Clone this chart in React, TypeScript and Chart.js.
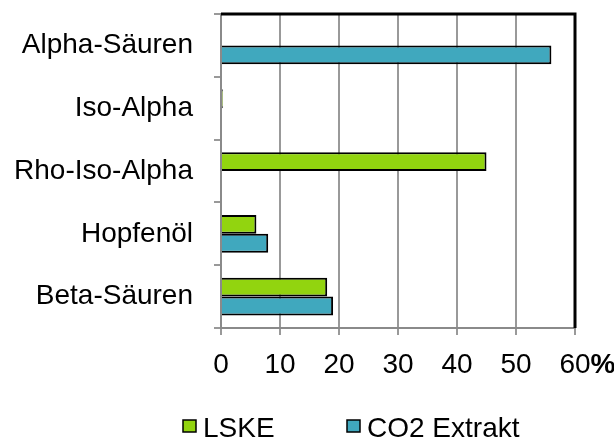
import React, { useEffect, useRef } from "react";
import { Chart, registerables } from "chart.js";

Chart.register(...registerables);

const categories = ["Alpha-Säuren", "Iso-Alpha", "Rho-Iso-Alpha", "Hopfenöl", "Beta-Säuren"];
const seriesNames = ["LSKE", "CO2 Extrakt"];
const lskeValues = [0, 0.3, 45, 6, 18];
const co2Values = [56, 0, 0, 8, 19];
const xMin = 0;
const xMax = 60;
const xStep = 10;
const unitSuffix = "%";

const GREEN = "#92D40F";
const TEAL = "#40A8BE";
const FONT = "'Liberation Sans', Arial, sans-serif";

export default function App() {
  const ref = useRef<HTMLCanvasElement | null>(null);

  useEffect(() => {
    if (!ref.current) return;

    const framePlugin = {
      id: "framePlugin",
      afterDraw(chart: any) {
        const ctx = chart.ctx;
        const { left, right, top, bottom } = chart.chartArea;
        ctx.save();
        ctx.strokeStyle = "#000";
        ctx.lineWidth = 3;
        ctx.beginPath();
        ctx.moveTo(left, top);
        ctx.lineTo(right + 1.5, top);
        ctx.moveTo(right, top);
        ctx.lineTo(right, bottom);
        ctx.stroke();

        const xs = chart.scales.x;
        const items = xs.getLabelItems();
        const last = items[items.length - 1];
        if (last) {
          ctx.font = `28px ${FONT}`;
          const w = ctx.measureText(String(last.label)).width;
          const [tx, ty] = last.options.translation;
          ctx.font = `bold 28px ${FONT}`;
          ctx.fillStyle = "#000";
          ctx.textAlign = "left";
          ctx.textBaseline = last.options.textBaseline;
          ctx.fillText(unitSuffix, tx + w / 2, ty + last.textOffset);
        }

        const colors = [GREEN, TEAL];
        const starts = [183, 347];
        ctx.font = `28px ${FONT}`;
        ctx.textBaseline = "alphabetic";
        ctx.textAlign = "left";
        chart.data.datasets.forEach((ds: any, i: number) => {
          const x = starts[i];
          ctx.fillStyle = colors[i];
          ctx.fillRect(x, 420, 13, 12);
          ctx.strokeStyle = "#000";
          ctx.lineWidth = 1.5;
          ctx.strokeRect(x, 420, 13, 12);
          ctx.fillStyle = "#000";
          ctx.fillText(ds.label, x + 20, 437);
        });
        ctx.restore();
      },
    };

    const chart = new Chart(ref.current, {
      type: "bar",
      data: {
        labels: categories,
        datasets: [
          {
            label: seriesNames[0],
            data: lskeValues,
            backgroundColor: GREEN,
            borderColor: "#000",
            borderWidth: 2,
            barPercentage: 1,
            categoryPercentage: 0.6,
          },
          {
            label: seriesNames[1],
            data: co2Values,
            backgroundColor: TEAL,
            borderColor: "#000",
            borderWidth: 2,
            barPercentage: 1,
            categoryPercentage: 0.6,
          },
        ],
      },
      options: {
        indexAxis: "y",
        responsive: false,
        animation: false,
        devicePixelRatio: 1,
        layout: { padding: { top: 14, right: 39, left: 0, bottom: 0 } },
        plugins: {
          legend: { display: false },
          tooltip: { enabled: false },
        },
        scales: {
          x: {
            min: xMin,
            max: xMax,
            ticks: {
              stepSize: xStep,
              color: "#000",
              font: { family: FONT, size: 28 },
              padding: 13,
              maxRotation: 0,
            },
            grid: {
              color: "#999",
              lineWidth: 2,
              tickLength: 7,
              drawTicks: true,
            },
            border: { display: true, color: "#8a8a8a", width: 2 },
            afterFit(scale: any) {
              scale.height = 109;
              scale.paddingLeft = 0;
              scale.paddingRight = 0;
            },
          },
          y: {
            ticks: {
              color: "#000",
              font: { family: FONT, size: 28 },
              padding: 21,
            },
            grid: {
              offset: true,
              drawOnChartArea: false,
              drawTicks: true,
              tickLength: 7,
              color: "#999",
              lineWidth: 2,
            },
            border: { display: true, color: "#8a8a8a", width: 2 },
            afterFit(scale: any) {
              scale.width = 221;
              scale.paddingTop = 0;
              scale.paddingBottom = 0;
            },
          },
        },
      },
      plugins: [framePlugin],
    } as any);

    return () => chart.destroy();
  }, []);

  return (
    <div style={{ position: "fixed", left: 0, top: 0, width: 614, height: 437, background: "#fff" }}>
      <canvas ref={ref} width={614} height={437} style={{ width: 614, height: 437, display: "block" }} />
    </div>
  );
}
